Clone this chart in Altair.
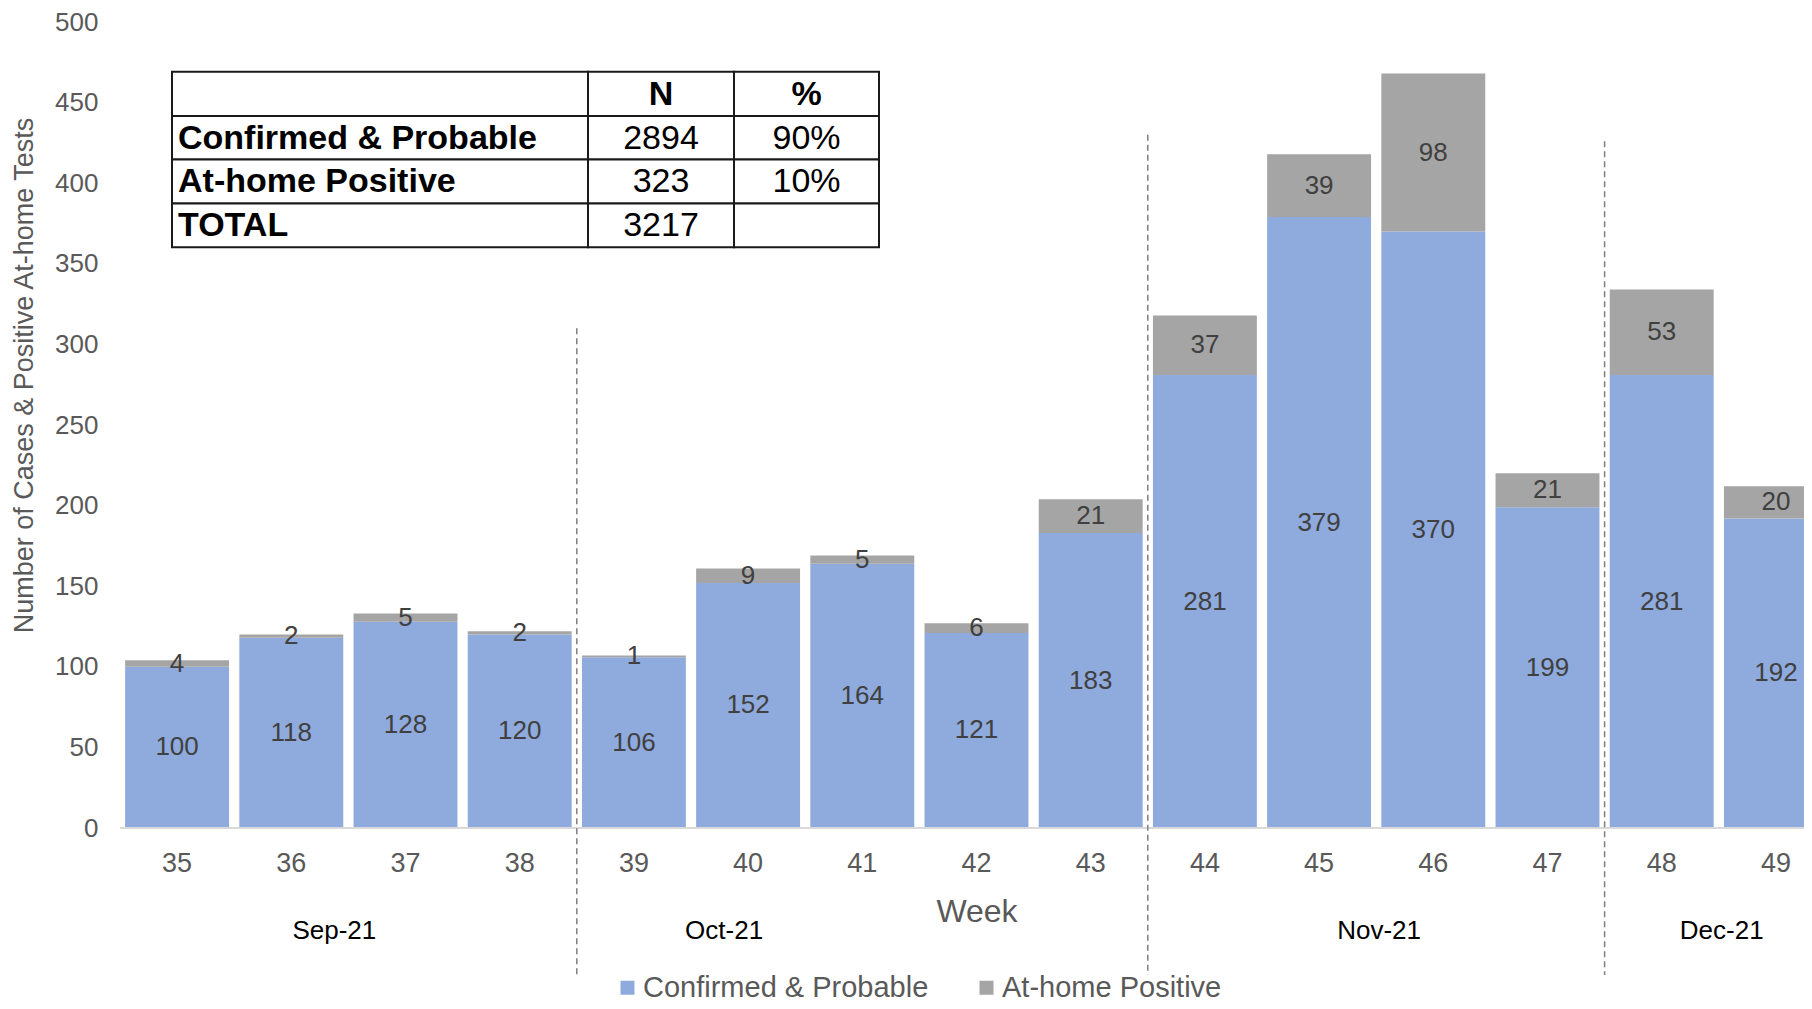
import altair as alt
import pandas as pd

# ---------------- data ----------------
weeks = ["35", "36", "37", "38", "39", "40", "41", "42", "43", "44", "45", "46", "47", "48", "49"]
confirmed = [100, 118, 128, 120, 106, 152, 164, 121, 183, 281, 379, 370, 199, 281, 192]
athome = [4, 2, 5, 2, 1, 9, 5, 6, 21, 37, 39, 98, 21, 53, 20]
series_names = ["Confirmed & Probable", "At-home Positive"]

months = ["Sep-21", "Oct-21", "Nov-21", "Dec-21"]
month_anchor_week = ["36", "40", "45", "48"]

sep_weeks = ["39", "44", "48"]          # first week of a new month
sep_tops = [310, 430, 426]

y_tick_values = [0, 50, 100, 150, 200, 250, 300, 350, 400, 450, 500]

table_header = ["", "N", "%"]
table_rows = ["Confirmed & Probable", "At-home Positive", "TOTAL"]
table_n = ["2894", "323", "3217"]
table_pct = ["90%", "10%", ""]

# ---------------- style / layout ----------------
FONT = "Liberation Sans"
BLUE = "#8FAADC"
GRAY = "#A5A5A5"
AXIS_GRAY = "#595959"
W, H = 1684, 806
STEP = 114.2
X_RANGE = STEP * len(weeks)
PAD_IN = 0.09

col_edges = [52, 468, 614, 759]
row_edges = [49.7, 94, 137.5, 181.4, 225.3]

# ---------------- frames ----------------
rows = []
for i, w in enumerate(weeks):
    rows.append({"week": w, "series": series_names[0], "value": confirmed[i], "order": 0})
    rows.append({"week": w, "series": series_names[1], "value": athome[i], "order": 1})
df = pd.DataFrame(rows)

xscale = alt.Scale(domain=weeks, range=[0, X_RANGE], paddingInner=PAD_IN, paddingOuter=PAD_IN / 2)
yscale = alt.Scale(domain=[0, 500], nice=False)

bars = alt.Chart(df).mark_bar(clip=True).encode(
    x=alt.X("week:N", scale=xscale,
            axis=alt.Axis(title="Week", labelAngle=0, labelFontSize=27, labelColor=AXIS_GRAY,
                          ticks=False, domain=False, labelPadding=22,
                          titleFontSize=32, titleColor=AXIS_GRAY, titleFontWeight="normal",
                          titleY=93, titleBaseline="alphabetic")),
    y=alt.Y("value:Q", stack="zero", scale=yscale,
            axis=alt.Axis(title="Number of Cases & Positive At-home Tests", values=y_tick_values,
                          grid=False, ticks=False, domain=False, labelPadding=22,
                          labelFontSize=26, labelColor=AXIS_GRAY,
                          titleFontSize=27, titleColor=AXIS_GRAY, titleFontWeight="normal",
                          titleAngle=270, titleX=-88, titleY=353, titleBaseline="alphabetic",
                          titleAlign="center")),
    color=alt.Color("series:N", scale=alt.Scale(domain=series_names, range=[BLUE, GRAY]),
                    legend=alt.Legend(title=None, orient="none", legendX=493, legendY=951,
                                      direction="horizontal", symbolType="square", symbolSize=196,
                                      symbolStrokeWidth=0, labelFontSize=29, labelColor=AXIS_GRAY,
                                      labelOffset=1, columnPadding=43, padding=0, labelLimit=500)),
    order=alt.Order("order:Q"),
)

labels = alt.Chart(df).transform_stack(
    stack="value", groupby=["week"], as_=["y0", "y1"], sort=[alt.SortField("order", order="ascending")]
).transform_calculate(mid="(datum.y0 + datum.y1) / 2").mark_text(
    fontSize=26, color="#404040", baseline="middle"
).encode(x="week:N", y="mid:Q", text="value:Q")

baseline = alt.Chart(pd.DataFrame({"v": [0]})).mark_rule(color="#D9D9D9", strokeWidth=2).encode(
    y="v:Q", x=alt.value(0), x2=alt.value(W)
)

sep_df = pd.DataFrame({"week": sep_weeks, "top": sep_tops})
seps = alt.Chart(sep_df).mark_rule(
    color="#7F7F7F", strokeWidth=1.5, strokeDash=[6, 4], xOffset=-STEP * PAD_IN / 2
).encode(x=alt.X("week:N", bandPosition=0), y="top:Q", y2=alt.value(953))

month_dx = [43, -24, 60, 60]
month_layers = []
for m, a, dx in zip(months, month_anchor_week, month_dx):
    month_layers.append(
        alt.Chart(pd.DataFrame({"week": [a], "label": [m]})).mark_text(
            fontSize=26, color="#000000", baseline="alphabetic", dx=dx
        ).encode(x="week:N", y=alt.value(917), text="label:N")
    )

# table
cells = []
texts = []
all_rows = [table_header] + [[table_rows[i], table_n[i], table_pct[i]] for i in range(len(table_rows))]
for r, row in enumerate(all_rows):
    for c, t in enumerate(row):
        x0, x1 = col_edges[c], col_edges[c + 1]
        y0, y1 = row_edges[r], row_edges[r + 1]
        cells.append({"x0": x0, "x1": x1, "y0": y0, "y1": y1})
        if t:
            kind = "left" if c == 0 else ("head" if r == 0 else "num")
            texts.append({"t": t, "x": x0 + 6 if c == 0 else (x0 + x1) / 2, "y": (y0 + y1) / 2 + 1, "kind": kind})
cells_df = pd.DataFrame(cells)
texts_df = pd.DataFrame(texts)

table_rect = alt.Chart(cells_df).mark_rect(fill="white", stroke="#1a1a1a", strokeWidth=2).encode(
    x=alt.X("x0:Q", scale=None), x2="x1:Q", y=alt.Y("y0:Q", scale=None), y2="y1:Q"
)
t_left = alt.Chart(texts_df).transform_filter("datum.kind == 'left'").mark_text(
    fontSize=34, fontWeight="bold", align="left", baseline="middle", color="#000000"
).encode(x=alt.X("x:Q", scale=None), y=alt.Y("y:Q", scale=None), text="t:N")
t_head = alt.Chart(texts_df).transform_filter("datum.kind == 'head'").mark_text(
    fontSize=34, fontWeight="bold", align="center", baseline="middle", color="#000000"
).encode(x=alt.X("x:Q", scale=None), y=alt.Y("y:Q", scale=None), text="t:N")
t_num = alt.Chart(texts_df).transform_filter("datum.kind == 'num'").mark_text(
    fontSize=34, align="center", baseline="middle", color="#000000"
).encode(x=alt.X("x:Q", scale=None), y=alt.Y("y:Q", scale=None), text="t:N")

chart = alt.layer(
    bars, labels, baseline, seps, *month_layers, table_rect, t_left, t_head, t_num
).properties(
    width=W, height=H,
    autosize=alt.AutoSizeParams(type="none"),
    padding={"left": 112, "top": 14, "right": 0, "bottom": 181},
).configure(font=FONT).configure_view(stroke=None)

chart.save("out.html", embed_options={"renderer": "svg", "actions": False})
